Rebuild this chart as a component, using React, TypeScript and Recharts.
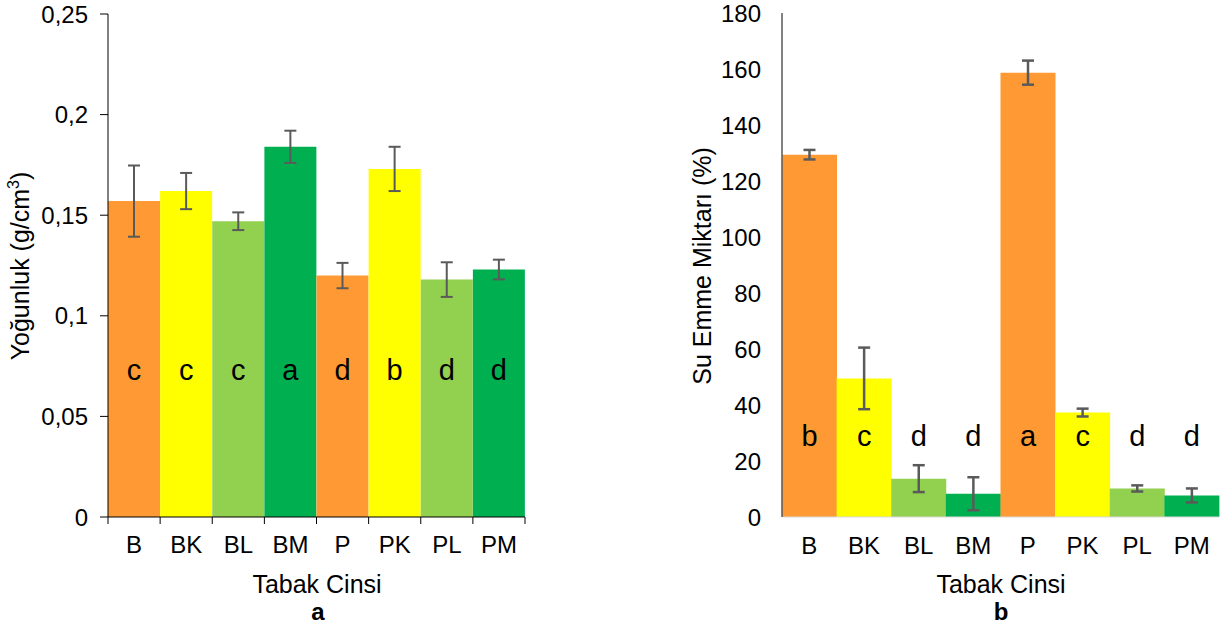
import { Bar, BarChart, Cell, ErrorBar, LabelList, XAxis, YAxis } from 'recharts'

const CATEGORIES = ['B', 'BK', 'BL', 'BM', 'P', 'PK', 'PL', 'PM']
const COLORS = ['#FF9933', '#FFFF00', '#92D050', '#00B050', '#FF9933', '#FFFF00', '#92D050', '#00B050']

// a: yoğunluk (g/cm3)
const DENSITY = [0.157, 0.162, 0.147, 0.184, 0.12, 0.173, 0.118, 0.123]
const DENSITY_ERR = [0.0177, 0.009, 0.0044, 0.008, 0.0063, 0.011, 0.0086, 0.0049]
const DENSITY_GROUP = ['c', 'c', 'c', 'a', 'd', 'b', 'd', 'd']
const DENSITY_TICKS = [0, 0.05, 0.1, 0.15, 0.2, 0.25]

// b: su emme miktarı (%)
const ABSORB = [129.4, 49.5, 13.7, 8.3, 158.7, 37.3, 10.2, 7.7]
const ABSORB_ERR = [1.7, 11, 4.8, 5.9, 4.3, 1.4, 1.1, 2.5]
const ABSORB_GROUP = ['b', 'c', 'd', 'd', 'a', 'c', 'd', 'd']
const ABSORB_TICKS = [0, 20, 40, 60, 80, 100, 120, 140, 160, 180]

const FONT = '"Liberation Sans", Arial, sans-serif'
const ERR_COLOR = '#5a5a5a'
const TICK_SIZE = 24

const densityData = CATEGORIES.map((name, i) => ({
  name,
  value: DENSITY[i],
  err: DENSITY_ERR[i],
  group: DENSITY_GROUP[i],
}))

const absorbData = CATEGORIES.map((name, i) => ({
  name,
  value: ABSORB[i],
  err: ABSORB_ERR[i],
  group: ABSORB_GROUP[i],
}))

const LEFT_W = 540
const LEFT_MARGIN = { top: 14, right: 15, bottom: 81, left: 48 }
const LEFT_BAND = (LEFT_W - LEFT_MARGIN.left - 60 - LEFT_MARGIN.right) / CATEGORIES.length

function groupLabel(lift: number) {
  return (props: any) => {
    const { x, y, width, height, value } = props
    return (
      <text
        x={Number(x) + Number(width) / 2}
        y={Number(y) + Number(height) - lift}
        textAnchor="middle"
        fontSize={29}
        fontFamily={FONT}
        fill="#000"
      >
        {value}
      </text>
    )
  }
}

function BoundaryTick(props: any) {
  const { x, y, payload, index } = props
  const half = LEFT_BAND / 2
  return (
    <g>
      <line x1={x - half} x2={x - half} y1={y} y2={y + 7} stroke="#000" />
      {index === CATEGORIES.length - 1 && (
        <line x1={x + half} x2={x + half} y1={y} y2={y + 7} stroke="#000" />
      )}
      <text x={x} y={y + 36} textAnchor="middle" fontSize={TICK_SIZE} fontFamily={FONT} fill="#000">
        {payload.value}
      </text>
    </g>
  )
}

const comma = (v: number) => String(v).replace('.', ',')

function DensityChart() {
  return (
    <BarChart width={LEFT_W} height={628} data={densityData} margin={LEFT_MARGIN} barCategoryGap={0}>
      <XAxis
        dataKey="name"
        axisLine={{ stroke: '#000' }}
        tickLine={false}
        tickSize={0}
        tickMargin={0}
        tick={<BoundaryTick />}
        interval={0}
      />
      <YAxis
        domain={[0, 0.25]}
        ticks={DENSITY_TICKS}
        tickFormatter={comma}
        axisLine={{ stroke: '#000' }}
        tickLine={{ stroke: '#000' }}
        tickSize={8}
        tickMargin={12}
        tick={{ fill: '#000', fontSize: TICK_SIZE, fontFamily: FONT }}
        width={60}
      />
      <Bar dataKey="value" isAnimationActive={false}>
        {densityData.map((d, i) => (
          <Cell key={d.name} fill={COLORS[i]} />
        ))}
        <ErrorBar dataKey="err" width={6} stroke={ERR_COLOR} strokeWidth={2} direction="y" isAnimationActive={false} />
        <LabelList dataKey="group" content={groupLabel(137)} />
      </Bar>
    </BarChart>
  )
}

function AbsorbChart() {
  return (
    <BarChart
      width={541}
      height={628}
      data={absorbData}
      margin={{ top: 13, right: 2, bottom: 81, left: 42 }}
      barCategoryGap={0}
    >
      <XAxis
        dataKey="name"
        axisLine={{ stroke: '#d9d9d9' }}
        tickLine={false}
        tickSize={0}
        tickMargin={20}
        tick={{ fill: '#000', fontSize: TICK_SIZE, fontFamily: FONT }}
        interval={0}
      />
      <YAxis
        domain={[0, 180]}
        ticks={ABSORB_TICKS}
        axisLine={{ stroke: '#595959', strokeWidth: 1.5 }}
        tickLine={false}
        tickSize={0}
        tickMargin={21}
        tick={{ fill: '#000', fontSize: TICK_SIZE, fontFamily: FONT }}
        width={60}
      />
      <Bar dataKey="value" isAnimationActive={false}>
        {absorbData.map((d, i) => (
          <Cell key={d.name} fill={COLORS[i]} />
        ))}
        <ErrorBar dataKey="err" width={6} stroke={ERR_COLOR} strokeWidth={2.5} direction="y" isAnimationActive={false} />
        <LabelList dataKey="group" content={groupLabel(71)} />
      </Bar>
    </BarChart>
  )
}

export default function App() {
  return (
    <div style={{ position: 'absolute', left: 0, top: 0, width: 1221, height: 628, background: '#fff' }}>
      <div style={{ position: 'absolute', left: 0, top: 0 }}>
        <DensityChart />
      </div>
      <div style={{ position: 'absolute', left: 680, top: 0 }}>
        <AbsorbChart />
      </div>
      <svg
        width={1221}
        height={628}
        style={{ position: 'absolute', left: 0, top: 0, pointerEvents: 'none' }}
        fontFamily={FONT}
        fill="#000"
      >
        <text transform="translate(29,266) rotate(-90)" textAnchor="middle" fontSize={25}>
          Yoğunluk (g/cm<tspan dy={-10} fontSize={16}>3</tspan>
          <tspan dy={10}>)</tspan>
        </text>
        <text transform="translate(711,266) rotate(-90)" textAnchor="middle" fontSize={25}>
          Su Emme Miktarı (%)
        </text>
        <text x={317} y={593} textAnchor="middle" fontSize={25}>Tabak Cinsi</text>
        <text x={318} y={620} textAnchor="middle" fontSize={24} fontWeight="bold">a</text>
        <text x={1001} y={593} textAnchor="middle" fontSize={25}>Tabak Cinsi</text>
        <text x={1001} y={620} textAnchor="middle" fontSize={24} fontWeight="bold">b</text>
      </svg>
    </div>
  )
}
